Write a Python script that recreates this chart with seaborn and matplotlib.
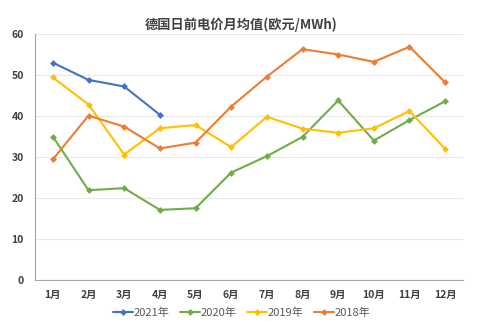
import matplotlib
matplotlib.use("Agg")
import matplotlib.pyplot as plt
import seaborn as sns
import pandas as pd
import numpy as np

months = ["1月", "2月", "3月", "4月", "5月", "6月", "7月", "8月", "9月", "10月", "11月", "12月"]
series_names = ["2021年", "2020年", "2019年", "2018年"]
v2021 = [53.0, 48.8, 47.2, 40.3]
v2020 = [35.0, 21.9, 22.4, 17.1, 17.5, 26.2, 30.2, 34.9, 43.8, 34.0, 39.0, 43.6]
v2019 = [49.4, 42.8, 30.6, 37.0, 37.8, 32.4, 39.8, 36.9, 35.9, 37.0, 41.2, 32.0]
v2018 = [29.4, 40.1, 37.4, 32.1, 33.5, 42.3, 49.6, 56.3, 55.0, 53.2, 56.9, 48.2]
colors = ["#4472C4", "#70AD47", "#FFC000", "#ED7D31"]
title = "德国日前电价月均值(欧元/MWh)"

rows = []
for name, vals in zip(series_names, [v2021, v2020, v2019, v2018]):
    for i, v in enumerate(vals):
        rows.append({"month": i, "value": v, "series": name})
df = pd.DataFrame(rows)

sns.set_theme(style="white")
plt.rcParams["font.family"] = ["Noto Sans CJK SC", "DejaVu Sans"]

fig = plt.figure(figsize=(4.83, 3.28), dpi=100)
ax = fig.add_axes([35/483, 48/328, 428/483, 246/328])

sns.lineplot(data=df, x="month", y="value", hue="series", hue_order=series_names,
             palette=colors, marker="D", markersize=3.5, markeredgewidth=0,
             linewidth=1.5, ax=ax, legend=True)

ax.set_xlim(-0.5, 11.5)
ax.set_ylim(0, 60)
ax.set_yticks(range(0, 61, 10))
ax.set_xticks(range(12))
ax.set_xticklabels(months)
ax.set_xticks(np.arange(-0.5, 12, 1), minor=True)
ax.tick_params(axis="x", which="major", length=0, pad=7, labelsize=7.5, colors="#404040")
ax.tick_params(axis="x", which="minor", length=3, color="#A6A6A6", width=0.8, direction="out")
ax.tick_params(axis="y", length=0, pad=8, labelsize=7.5, colors="#404040")
for lab in ax.get_xticklabels() + ax.get_yticklabels():
    lab.set_fontweight("bold")
ax.grid(axis="y", color="#E8E8E8", linewidth=0.8)
ax.set_axisbelow(True)
for s in ["top", "right"]:
    ax.spines[s].set_visible(False)
ax.spines["left"].set_color("#A6A6A6")
ax.spines["bottom"].set_color("#A6A6A6")
ax.spines["left"].set_linewidth(0.8)
ax.spines["bottom"].set_linewidth(0.8)
ax.set_xlabel("")
ax.set_ylabel("")

fig.text(0.5, 1 - 25/328, title, ha="center", va="center", fontsize=9.5,
         fontweight="bold", color="#404040")

handles, labels = ax.get_legend_handles_labels()
ax.get_legend().remove()
fig.legend(handles, labels, loc="center", bbox_to_anchor=(0.5, 1 - 313/328), ncol=4,
           frameon=False, fontsize=8, handlelength=1.8, handletextpad=0.1,
           columnspacing=0.9, labelcolor="#595959", borderpad=0.1)

fig.savefig("out.png", dpi=100, facecolor="white")
